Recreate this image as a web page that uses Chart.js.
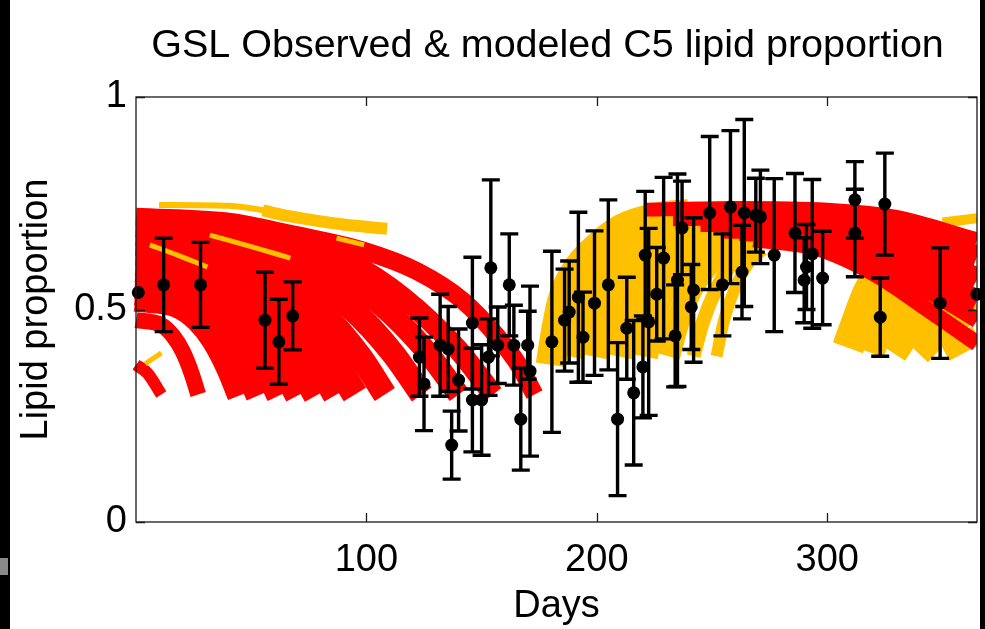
<!DOCTYPE html>
<html>
<head>
<meta charset="utf-8">
<script src="https://cdn.jsdelivr.net/npm/chart.js@4.4.0/dist/chart.umd.min.js"></script>
<style>
  html, body { margin: 0; padding: 0; background: #fff; overflow: hidden; }
  #wrap { width: 985px; height: 629px; position: relative; }
</style>
</head>
<body>
<div id="wrap"><canvas id="chart" width="985" height="629"></canvas></div>
<script>
// observed C5 lipid proportion (day of year, mean, +/- error)
var obsDays = [1, 12, 28, 56, 62, 68, 123, 125, 132, 135.5, 137, 140, 146, 146, 150, 154, 153, 157, 162, 164,
  167, 171, 170, 180.5, 186, 188, 192, 194, 199, 205, 209, 213, 216, 221, 220, 222.5, 226, 229, 234, 235,
  237, 242, 241, 249, 254.5, 258, 263, 264, 269, 271, 277, 286, 290, 291, 293.5, 298, 312, 312, 325, 323,
  349, 365];
var obsValues = [0.54, 0.558, 0.558, 0.475, 0.424, 0.485, 0.388, 0.325, 0.416, 0.407, 0.181, 0.334, 0.468, 0.287, 0.287, 0.598, 0.388, 0.416, 0.558, 0.416,
  0.242, 0.355, 0.416, 0.424, 0.475, 0.494, 0.529, 0.435, 0.515, 0.558, 0.242, 0.456, 0.304, 0.628, 0.365, 0.471, 0.536, 0.621, 0.438, 0.569,
  0.692, 0.546, 0.506, 0.727, 0.558, 0.741, 0.588, 0.727, 0.722, 0.718, 0.628, 0.68, 0.569, 0.6, 0.631, 0.574, 0.758, 0.68, 0.748, 0.482,
  0.515, 0.536];
var obsErrors = [0, 0.11, 0.10, 0.113, 0.10, 0.08, 0.092, 0.11, 0.12, 0.10, 0.08, 0.12, 0.155, 0.122, 0.13, 0.207, 0.09, 0.09, 0.12, 0.094,
  0.12, 0.2, 0.08, 0.213, 0.12, 0.12, 0.2, 0.106, 0.17, 0.2, 0.18, 0.12, 0.17, 0.15, 0.12, 0.22, 0.11, 0.19, 0.12, 0.25,
  0.11, 0.17, 0.1, 0.18, 0.12, 0.18, 0.11, 0.22, 0.087, 0.11, 0.18, 0.14, 0.1, 0.1, 0.175, 0.11, 0.09, 0.103, 0.12, 0.092,
  0.13, 0];

// modeled trajectories, [day, proportion]
var redEarly = [
  [[0, 0.37], [5, 0.35], [11, 0.30]],
  [[0, 0.475], [10.8, 0.464], [16.2, 0.437], [20.3, 0.401], [24.3, 0.347], [27, 0.30]],
  [[0, 0.53], [18.4, 0.515], [27.6, 0.48], [34.5, 0.433], [41.4, 0.362], [46, 0.30]],
  [[0, 0.545], [21.6, 0.529], [32.4, 0.492], [40.5, 0.442], [48.6, 0.366], [54, 0.30]],
  [[0, 0.56], [25.2, 0.543], [37.8, 0.504], [47.3, 0.45], [56.7, 0.37], [63, 0.30]],
  [[0, 0.573], [28.4, 0.556], [42.6, 0.514], [53.3, 0.458], [63.9, 0.374], [71, 0.30]],
  [[0, 0.585], [31.6, 0.567], [47.4, 0.523], [59.3, 0.465], [71.1, 0.377], [79, 0.30]],
  [[0, 0.597], [34.8, 0.578], [52.2, 0.533], [65.3, 0.472], [78.3, 0.38], [87, 0.30]],
  [[0, 0.61], [38, 0.59], [57, 0.543], [71.3, 0.479], [85.5, 0.384], [95, 0.30]],
  [[0, 0.632], [43.2, 0.611], [64.8, 0.56], [81, 0.492], [97.2, 0.39], [108, 0.30]],
  [[0, 0.655], [49.6, 0.632], [74.4, 0.578], [93, 0.505], [111.6, 0.396], [124, 0.30]],
  [[0, 0.675], [56, 0.651], [84, 0.594], [105, 0.517], [126, 0.402], [140, 0.30]],
  [[0, 0.695], [62, 0.67], [93, 0.61], [116, 0.528], [139.5, 0.407], [155, 0.30]],
  [[0, 0.718], [41, 0.706], [67, 0.678], [99, 0.638], [122, 0.59], [142, 0.52], [157, 0.435], [166, 0.37], [173, 0.30]]
];
var redLate = [
  [[221, 0.735], [260, 0.739], [300, 0.735], [330, 0.718], [365, 0.665]],
  [[233, 0.722], [270, 0.725], [305, 0.714], [335, 0.685], [365, 0.625]],
  [[245, 0.708], [280, 0.708], [310, 0.688], [340, 0.638], [365, 0.572]],
  [[254, 0.693], [285, 0.688], [315, 0.648], [345, 0.578], [365, 0.52]],
  [[262, 0.68], [290, 0.67], [320, 0.61], [345, 0.54], [365, 0.475]],
  [[268, 0.665], [295, 0.645], [320, 0.585], [345, 0.495], [365, 0.42]]
];
var goldUnder = [
  [[10, 0.746], [40, 0.744], [62, 0.728]],
  [[55, 0.733], [67, 0.719], [90, 0.70], [109, 0.69]]
];
var goldOver = [
  [[6, 0.652], [18, 0.628], [31, 0.60]],
  [[32, 0.675], [50, 0.648], [67, 0.621]],
  [[87, 0.668], [99, 0.652]],
  [[4, 0.372], [11, 0.398]]
];
var goldLate = [
  [[180, 0.37], [182, 0.44], [185, 0.52], [191, 0.59], [199, 0.64], [211, 0.69], [225, 0.715], [240, 0.725]],
  [[188, 0.39], [191, 0.47], [196, 0.55], [203, 0.61], [214, 0.66], [229, 0.70], [245, 0.715]],
  [[198, 0.39], [201, 0.47], [206, 0.55], [213, 0.61], [225, 0.66], [240, 0.70]],
  [[209, 0.39], [212, 0.47], [217, 0.55], [225, 0.61], [236, 0.66], [252, 0.70]],
  [[220, 0.39], [223, 0.47], [228, 0.55], [236, 0.61], [247, 0.66], [262, 0.69]],
  [[231, 0.39], [235, 0.47], [241, 0.55], [249, 0.61], [259, 0.655], [272, 0.68]],
  [[242, 0.39], [246, 0.47], [252, 0.55], [259, 0.61], [268, 0.65]],
  [[252, 0.39], [255, 0.47], [260, 0.55], [266, 0.61], [272, 0.64]],
  [[309, 0.41], [313, 0.47], [318, 0.54], [325, 0.60], [334, 0.65]],
  [[318, 0.40], [322, 0.46], [328, 0.52], [336, 0.58], [347, 0.63]],
  [[328, 0.40], [334, 0.45], [341, 0.50], [350, 0.55], [362, 0.60]],
  [[339, 0.40], [346, 0.44], [355, 0.48], [365, 0.51]],
  [[351, 0.40], [358, 0.42], [365, 0.44]],
  [[350, 0.705], [358, 0.71], [365, 0.715]]
];

var xTicks = [100, 200, 300];
var yTicks = [0, 0.5, 1];
var titleText = 'GSL Observed & modeled C5 lipid proportion';

var RED = '#ff0000';
var GOLD = '#ffc000';
var FONT = '"Liberation Sans", Arial, Helvetica, sans-serif';

var redEarlyWidths = [12, 16, 30, 30, 30, 30, 30, 28, 26, 24, 24, 22, 21, 18];
var redLateWidths = [14, 22, 22, 22, 16, 16];
var goldUnderWidths = [6, 12];
var goldOverWidths = [5, 5, 5, 5];
var goldLateWidths = [30, 30, 30, 30, 30, 24, 14, 12, 32, 32, 32, 30, 20, 10];

function strand(pts, color, width, order) {
  return {
    type: 'line',
    data: pts.map(function(p) { return { x: p[0], y: p[1] }; }),
    borderColor: color,
    borderWidth: width,
    pointRadius: 0,
    fill: false,
    cubicInterpolationMode: 'monotone',
    borderCapStyle: 'butt',
    borderJoinStyle: 'round',
    order: order,
    clip: { left: 3, top: 0, right: 0, bottom: 0 }
  };
}

var datasets = [];
datasets.push({
  type: 'scatter',
  data: obsDays.map(function(d, i) { return { x: d, y: obsValues[i] }; }),
  pointStyle: 'circle',
  pointRadius: 6.5,
  backgroundColor: '#000',
  borderColor: '#000',
  borderWidth: 0,
  order: 0,
  clip: false
});
goldOver.forEach(function(s, i) { datasets.push(strand(s, GOLD, goldOverWidths[i], 2)); });
redEarly.forEach(function(s, i) { datasets.push(strand(s, RED, redEarlyWidths[i], 3)); });
redLate.forEach(function(s, i) { datasets.push(strand(s, RED, redLateWidths[i], 3)); });
goldUnder.forEach(function(s, i) { datasets.push(strand(s, GOLD, goldUnderWidths[i], 4)); });
goldLate.forEach(function(s, i) { datasets.push(strand(s, GOLD, goldLateWidths[i], 4)); });

// page edges of the original screenshot
var backdrop = {
  id: 'backdrop',
  beforeDraw: function(chart) {
    var ctx = chart.ctx;
    ctx.save();
    ctx.fillStyle = '#fff';
    ctx.fillRect(0, 0, chart.width, chart.height);
    ctx.fillStyle = '#000';
    ctx.fillRect(0, 0, 10, chart.height);
    ctx.fillRect(980, 0, 5, chart.height);
    ctx.fillStyle = '#8a8a8a';
    ctx.fillRect(0, 558, 8, 17);
    ctx.restore();
  }
};

var errorBars = {
  id: 'errorBars',
  afterDatasetsDraw: function(chart) {
    var ctx = chart.ctx, x = chart.scales.x, y = chart.scales.y;
    ctx.save();
    ctx.strokeStyle = '#000';
    ctx.lineWidth = 3.4;
    ctx.lineCap = 'butt';
    obsDays.forEach(function(d, i) {
      var e = obsErrors[i];
      if (!e) return;
      var px = x.getPixelForValue(d);
      var top = y.getPixelForValue(obsValues[i] + e);
      var bot = y.getPixelForValue(obsValues[i] - e);
      ctx.beginPath();
      ctx.moveTo(px, top); ctx.lineTo(px, bot);
      ctx.moveTo(px - 9, top); ctx.lineTo(px + 9, top);
      ctx.moveTo(px - 9, bot); ctx.lineTo(px + 9, bot);
      ctx.stroke();
    });
    ctx.restore();
  }
};

var frame = {
  id: 'frame',
  afterDraw: function(chart) {
    var ctx = chart.ctx, a = chart.chartArea, x = chart.scales.x, y = chart.scales.y;
    ctx.save();
    ctx.strokeStyle = '#1a1a1a';
    ctx.lineWidth = 1.3;
    ctx.strokeRect(a.left, a.top, a.right - a.left, a.bottom - a.top);
    ctx.beginPath();
    xTicks.forEach(function(t) {
      var px = Math.round(x.getPixelForValue(t)) + 0.5;
      ctx.moveTo(px, a.bottom); ctx.lineTo(px, a.bottom - 9);
      ctx.moveTo(px, a.top); ctx.lineTo(px, a.top + 9);
    });
    yTicks.forEach(function(t) {
      var py = Math.round(y.getPixelForValue(t)) + 0.5;
      ctx.moveTo(a.left, py); ctx.lineTo(a.left + 9, py);
      ctx.moveTo(a.right, py); ctx.lineTo(a.right - 9, py);
    });
    ctx.stroke();
    // title centred over the axes box
    ctx.fillStyle = '#000';
    ctx.font = '39.5px ' + FONT;
    ctx.textAlign = 'center';
    ctx.textBaseline = 'alphabetic';
    ctx.fillText(titleText, (a.left + a.right) / 2 - 9, a.top - 40);
    ctx.restore();
  }
};

new Chart(document.getElementById('chart'), {
  type: 'scatter',
  data: { datasets: datasets },
  plugins: [backdrop, errorBars, frame],
  options: {
    responsive: false,
    animation: false,
    events: [],
    layout: { padding: { left: 0, right: 8, top: 97, bottom: 0 } },
    plugins: {
      legend: { display: false },
      tooltip: { enabled: false },
      title: { display: false }
    },
    scales: {
      x: {
        type: 'linear',
        min: 0,
        max: 365,
        afterBuildTicks: function(s) { s.ticks = xTicks.map(function(v) { return { value: v }; }); },
        afterFit: function(s) { s.height = 107; },
        grid: { display: false, drawTicks: false },
        border: { display: false },
        ticks: { color: '#000', padding: 16, maxRotation: 0, font: { family: FONT, size: 38 } },
        title: { display: true, text: 'Days', color: '#000', font: { family: FONT, size: 38 }, padding: { top: 0, bottom: 0 } }
      },
      y: {
        min: 0,
        max: 1,
        afterBuildTicks: function(s) { s.ticks = yTicks.map(function(v) { return { value: v }; }); },
        afterFit: function(s) { s.width = 136; },
        grid: { display: false, drawTicks: false },
        border: { display: false },
        ticks: { color: '#000', padding: 9, font: { family: FONT, size: 38 },
          callback: function(v) { return String(v); } },
        title: { display: true, text: 'Lipid proportion', color: '#000', font: { family: FONT, size: 38 }, padding: { top: 14, bottom: 0 } }
      }
    }
  }
});
</script>
</body>
</html>
